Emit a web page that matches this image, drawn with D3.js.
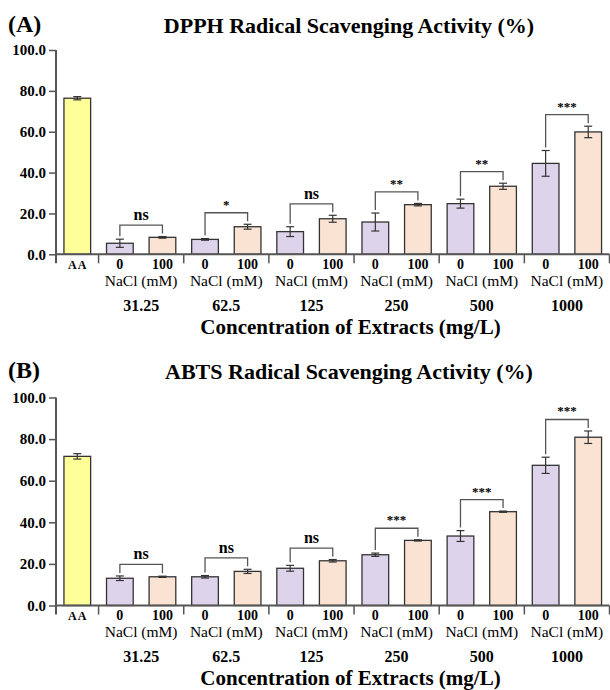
<!DOCTYPE html>
<html>
<head>
<meta charset="utf-8">
<script src="https://cdn.jsdelivr.net/npm/d3@7"></script>
<style>
  body { margin: 0; background: #fff; }
  text { font-family: "Liberation Serif", "Times New Roman", serif; fill: #000; }
</style>
</head>
<body>
<div id="chart"></div>
<script>
// categories
var concentrations = ["31.25", "62.5", "125", "250", "500", "1000"];
var naclLevels = ["0", "100"];
var yTicks = [0, 20, 40, 60, 80, 100];

// DPPH (A)
var dpphAA = 76.4, dpphAAErr = 0.8;
var dpph0 = [5.4, 7.3, 11.1, 15.8, 24.8, 44.5];
var dpph0Err = [2.0, 0.4, 2.4, 4.4, 2.2, 6.3];
var dpph100 = [8.3, 13.5, 17.4, 24.3, 33.3, 59.9];
var dpph100Err = [0.4, 1.2, 1.7, 0.6, 1.5, 2.8];
var dpphSig = ["ns", "*", "ns", "**", "**", "***"];

// ABTS (B)
var abtsAA = 71.7, abtsAAErr = 1.3;
var abts0 = [13.1, 13.8, 17.9, 24.4, 33.4, 67.4];
var abts0Err = [1.1, 0.6, 1.4, 0.8, 2.6, 3.9];
var abts100 = [13.8, 16.4, 21.5, 31.3, 45.1, 80.9];
var abts100Err = [0.3, 1.0, 0.6, 0.3, 0.3, 3.0];
var abtsSig = ["ns", "ns", "ns", "***", "***", "***"];

var colAA = "#ffff99", col0 = "#ddd3ea", col100 = "#fbe3d3";
var axisCol = "#555", barStroke = "#333";

var svg = d3.select("#chart").append("svg")
	.attr("width", 610)
	.attr("height", 690);

//build the 13 slot names: AA then 0/100 per concentration
var slots = ["AA"];
concentrations.forEach(function(c){
	naclLevels.forEach(function(n){ slots.push(c + "|" + n); });
});

var x = d3.scaleBand()
	.domain(slots)
	.range([56, 609.5])
	.paddingInner(0.373)
	.paddingOuter(0.1865);

function panel(base, top, label, title, titleY, aa, aaErr, v0, e0, v100, e100, sig){
	var g = svg.append("g");
	var y = d3.scaleLinear().domain([0, 100]).range([base, top]);
	var step = x.step();
	var x0 = x.range()[0];

	//rows: one per bar
	var rows = [{key: "AA", v: aa, e: aaErr, fill: colAA}];
	concentrations.forEach(function(c, i){
		rows.push({key: c + "|0", v: v0[i], e: e0[i], fill: col0});
		rows.push({key: c + "|100", v: v100[i], e: e100[i], fill: col100});
	});

	g.selectAll("rect.bar")
		.data(rows)
		.enter()
		.append("rect")
		.attr("x", function(d){ return x(d.key); })
		.attr("y", function(d){ return y(d.v); })
		.attr("width", x.bandwidth())
		.attr("height", function(d){ return y(0) - y(d.v); })
		.attr("fill", function(d){ return d.fill; })
		.attr("stroke", barStroke)
		.attr("stroke-width", 1.3);

	//error bars
	var cap = 4;
	rows.forEach(function(d){
		var cx = x(d.key) + x.bandwidth() / 2;
		g.append("line").attr("x1", cx).attr("x2", cx)
			.attr("y1", y(d.v - d.e)).attr("y2", y(d.v + d.e))
			.attr("stroke", barStroke).attr("stroke-width", 1.2);
		[d.v - d.e, d.v + d.e].forEach(function(t){
			g.append("line").attr("x1", cx - cap).attr("x2", cx + cap)
				.attr("y1", y(t)).attr("y2", y(t))
				.attr("stroke", barStroke).attr("stroke-width", 1.2);
		});
	});

	//y axis
	var yAxis = d3.axisLeft(y)
		.tickValues(yTicks)
		.tickSize(7)
		.tickPadding(3)
		.tickFormat(d3.format(".1f"));
	var ya = g.append("g").attr("transform", "translate(" + x0 + ",0)").call(yAxis);
	ya.select(".domain").remove();
	ya.selectAll("line").attr("stroke", axisCol).attr("stroke-width", 1.5);
	ya.selectAll("text")
		.style("font-family", "Liberation Serif")
		.style("font-weight", "bold")
		.style("font-size", "15px")
		.attr("fill", "#000");

	g.append("line").attr("x1", x0).attr("x2", x0)
		.attr("y1", y(100)).attr("y2", base + 9)
		.attr("stroke", axisCol).attr("stroke-width", 2);

	//x axis line with ticks at group edges
	g.append("line").attr("x1", x0).attr("x2", x.range()[1])
		.attr("y1", base).attr("y2", base)
		.attr("stroke", axisCol).attr("stroke-width", 2);
	for (var k = 0; k <= concentrations.length; k++){
		var tx = x0 + step * (1 + 2 * k);
		g.append("line").attr("x1", tx).attr("x2", tx)
			.attr("y1", base).attr("y2", base + 9)
			.attr("stroke", axisCol).attr("stroke-width", 1.5);
	}

	//bar labels
	g.append("text")
		.attr("x", x("AA") + x.bandwidth() / 2 + 0.5)
		.attr("y", base + 14.5)
		.attr("text-anchor", "middle")
		.attr("font-weight", "bold")
		.attr("font-size", 12)
		.attr("letter-spacing", 1)
		.text("AA");

	concentrations.forEach(function(c, i){
		naclLevels.forEach(function(n){
			g.append("text")
				.attr("x", x(c + "|" + n) + x.bandwidth() / 2)
				.attr("y", base + 14.5)
				.attr("text-anchor", "middle")
				.attr("font-weight", "bold")
				.attr("font-size", 14)
				.text(n);
		});
		var gc = x0 + step * (2 + 2 * i);
		g.append("text")
			.attr("x", gc).attr("y", base + 31.5)
			.attr("text-anchor", "middle")
			.attr("font-size", 15.5)
			.text("NaCl (mM)");
		g.append("text")
			.attr("x", gc).attr("y", base + 56.5)
			.attr("text-anchor", "middle")
			.attr("font-weight", "bold")
			.attr("font-size", 16)
			.text(c);

		//significance bracket
		var xa = x(c + "|0") + x.bandwidth() / 2;
		var xb = x(c + "|100") + x.bandwidth() / 2;
		var ta = y(v0[i] + e0[i]), tb = y(v100[i] + e100[i]);
		var by = Math.min(ta, tb) - 11.5;
		g.append("path")
			.attr("d", "M" + xa + "," + (ta - 3) + "V" + by + "H" + xb + "V" + (tb - 3))
			.attr("fill", "none")
			.attr("stroke", axisCol)
			.attr("stroke-width", 1.3);
		var isNs = sig[i] == "ns";
		g.append("text")
			.attr("x", (xa + xb) / 2)
			.attr("y", isNs ? by - 5 : by - 4)
			.attr("text-anchor", "middle")
			.attr("font-weight", "bold")
			.attr("font-size", isNs ? 16 : 13)
			.text(sig[i]);
	});

	//axis title
	g.append("text")
		.attr("x", 350.5).attr("y", base + 79.5)
		.attr("text-anchor", "middle")
		.attr("font-weight", "bold")
		.attr("font-size", 21)
		.text("Concentration of Extracts (mg/L)");

	//panel title + label
	g.append("text")
		.attr("x", 349).attr("y", titleY)
		.attr("text-anchor", "middle")
		.attr("font-weight", "bold")
		.attr("font-size", 22)
		.text(title);
	g.append("text")
		.attr("x", 8).attr("y", titleY - 1.5)
		.attr("font-weight", "bold")
		.attr("font-size", 24)
		.text(label);
}

panel(254.3, 50, "(A)", "DPPH Radical Scavenging Activity (%)", 33.3,
	dpphAA, dpphAAErr, dpph0, dpph0Err, dpph100, dpph100Err, dpphSig);
panel(605.5, 397.5, "(B)", "ABTS Radical Scavenging Activity (%)", 379.3,
	abtsAA, abtsAAErr, abts0, abts0Err, abts100, abts100Err, abtsSig);
</script>
</body>
</html>
